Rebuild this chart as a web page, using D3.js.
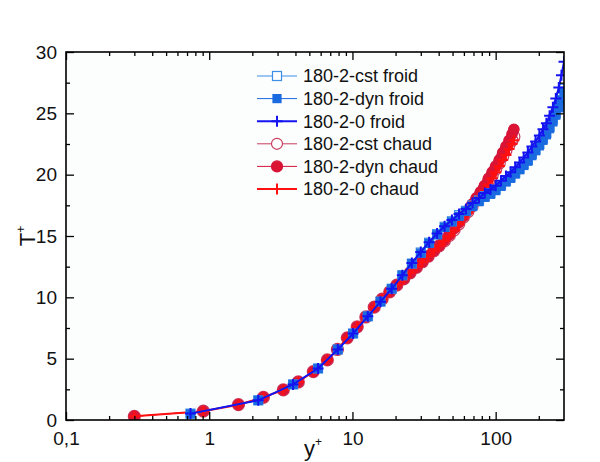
<!DOCTYPE html>
<html>
<head>
<meta charset="utf-8">
<script src="https://cdn.jsdelivr.net/npm/d3@7"></script>
<style>
  body { margin: 0; background: #fff; }
  svg { font-family: "Liberation Sans", Arial, sans-serif; }
</style>
</head>
<body>
<svg id="chart" width="600" height="462"></svg>
<script>
// y+ grids (cold wall / hot wall)
const yPlusFroid = [0.74, 2.2, 3.85, 5.75, 7.9, 10.1, 12.8, 15.7, 18.8, 22.3, 26, 30, 34.3, 39, 44, 49.5, 55.5, 62, 69, 76.5, 84, 92, 100, 109, 118, 127, 137, 147, 157, 168, 179, 190, 202, 214, 226, 238, 251, 263, 276, 288, 300];
const yPlusChaud = [0.3, 0.91, 1.6, 2.39, 3.29, 4.19, 5.33, 6.68, 7.85, 9.2, 10.8, 12.4, 14.2, 16.1, 18.2, 20.4, 22.8, 25.3, 28, 30.8, 33.8, 37, 40.3, 43.8, 47.5, 51.3, 55.3, 59.5, 64, 68.5, 73.3, 78.3, 83.5, 89, 94.5, 100, 106, 112, 118, 124, 130, 134];

// T+ values
const tCstFroid = [0.52, 1.6, 2.9, 4.2, 5.75, 7.05, 8.45, 9.65, 10.7, 11.8, 12.75, 13.65, 14.45, 15.15, 15.75, 16.2, 16.7, 17.05, 17.5, 17.9, 18.25, 18.5, 18.8, 19.15, 19.5, 19.8, 20.15, 20.5, 20.85, 21.2, 21.7, 22.05, 22.5, 22.95, 23.4, 23.9, 24.5, 25.0, 25.6, 26.3, 27.0];
const tDynFroid = [0.5, 1.6, 2.9, 4.2, 5.75, 7.05, 8.45, 9.65, 10.7, 11.8, 12.75, 13.6, 14.4, 15.1, 15.7, 16.15, 16.6, 17.0, 17.4, 17.8, 18.15, 18.4, 18.7, 19.05, 19.4, 19.7, 20.05, 20.4, 20.75, 21.1, 21.55, 21.95, 22.35, 22.8, 23.25, 23.75, 24.3, 24.85, 25.45, 26.1, 26.8];
const t0Froid = [0.52, 1.6, 2.9, 4.2, 5.75, 7.05, 8.45, 9.65, 10.7, 11.8, 12.8, 13.7, 14.5, 15.2, 15.8, 16.3, 16.8, 17.2, 17.7, 18.1, 18.5, 18.8, 19.1, 19.5, 19.9, 20.2, 20.6, 21.0, 21.4, 21.8, 22.3, 22.7, 23.2, 23.7, 24.2, 24.8, 25.5, 26.2, 27.1, 28.1, 29.2];
const tCstChaud = [0.3, 0.72, 1.25, 1.85, 2.45, 3.1, 3.95, 4.9, 5.75, 6.7, 7.6, 8.4, 9.2, 9.85, 10.45, 11.0, 11.5, 12.0, 12.45, 12.9, 13.35, 13.8, 14.2, 14.6, 15.05, 15.5, 16.0, 16.55, 17.0, 17.45, 17.95, 18.4, 18.9, 19.45, 19.95, 20.45, 20.95, 21.5, 22.0, 22.45, 22.8, 23.1];
const tDynChaud = [0.3, 0.72, 1.25, 1.85, 2.45, 3.1, 3.95, 4.9, 5.75, 6.7, 7.6, 8.4, 9.2, 9.85, 10.45, 11.0, 11.5, 12.0, 12.45, 12.9, 13.35, 13.8, 14.2, 14.65, 15.1, 15.6, 16.1, 16.6, 17.1, 17.6, 18.1, 18.6, 19.1, 19.7, 20.2, 20.7, 21.2, 21.8, 22.3, 22.8, 23.3, 23.7];
const t0Chaud = [0.3, 0.72, 1.25, 1.85, 2.45, 3.1, 3.95, 4.9, 5.75, 6.7, 7.6, 8.4, 9.2, 9.85, 10.45, 11.0, 11.5, 12.0, 12.5, 12.9, 13.35, 13.8, 14.2, 14.6, 15.0, 15.45, 15.95, 16.5, 16.9, 17.3, 17.8, 18.2, 18.7, 19.2, 19.7, 20.2, 20.7, 21.2, 21.6, 22.1, 22.5, 22.8];

const seriesNames = ['180-2-cst froid', '180-2-dyn froid', '180-2-0 froid', '180-2-cst chaud', '180-2-dyn chaud', '180-2-0 chaud'];

const xMajor = [0.1, 1, 10, 100];
const xMajorLabels = ['0,1', '1', '10', '100'];
const xMinor = [0.2, 0.3, 0.4, 0.5, 0.6, 0.7, 0.8, 0.9, 2, 3, 4, 5, 6, 7, 8, 9, 20, 30, 40, 50, 60, 70, 80, 90, 200];
const yMajor = [0, 5, 10, 15, 20, 25, 30];
const yMinor = [2.5, 7.5, 12.5, 17.5, 22.5, 27.5];

let svg = d3.select('#chart');
const W = 600, H = 462;
const pLeft = 66, pRight = 564, pTop = 52, pBottom = 420;

let x = d3.scaleLog().domain([0.1, 300]).range([pLeft, pRight]);
let y = d3.scaleLinear().domain([0, 30]).range([pBottom, pTop]);

///// series styles /////
let series = [
    {name: seriesNames[0], xs: yPlusFroid, ts: tCstFroid, color: '#3d8fe6', lw: 1, mark: 'square', fill: 'none', size: 9},
    {name: seriesNames[1], xs: yPlusFroid, ts: tDynFroid, color: '#1a6ae0', lw: 1, mark: 'square', fill: '#1a6ae0', size: 8},
    {name: seriesNames[2], xs: yPlusFroid, ts: t0Froid, color: '#1414f0', lw: 2, mark: 'plus', fill: 'none', size: 11},
    {name: seriesNames[3], xs: yPlusChaud, ts: tCstChaud, color: '#c83c5e', lw: 1, mark: 'circle', fill: 'none', size: 12},
    {name: seriesNames[4], xs: yPlusChaud, ts: tDynChaud, color: '#d4143a', lw: 1, mark: 'circle', fill: '#dc1434', size: 10.5},
    {name: seriesNames[5], xs: yPlusChaud, ts: t0Chaud, color: '#ff1010', lw: 2, mark: 'plus', fill: 'none', size: 11}
];

function drawMarker(g, s, bg){
    let fill = s.fill === 'none' ? bg : s.fill;
    if(s.mark === 'square'){
        g.append('rect').attr('x', -s.size/2).attr('y', -s.size/2)
            .attr('width', s.size).attr('height', s.size)
            .attr('fill', fill).attr('stroke', s.color).attr('stroke-width', 1.2);
    }else if(s.mark === 'circle'){
        g.append('circle').attr('r', s.size/2)
            .attr('fill', fill).attr('stroke', s.color).attr('stroke-width', 1.2);
    }else{
        let h = s.size/2;
        g.append('path').attr('d', `M${-h},0H${h}M0,${-h}V${h}`)
            .attr('stroke', s.color).attr('stroke-width', 2).attr('fill', 'none');
    }
}

svg.append('rect').attr('width', W).attr('height', H).attr('fill', '#fff');
svg.append('rect').attr('x', pLeft).attr('y', pTop).attr('width', pRight - pLeft).attr('height', pBottom - pTop).attr('fill', '#fcfdfd');

///// data /////
svg.append('clipPath').attr('id', 'plotclip').append('rect')
    .attr('x', pLeft).attr('y', pTop).attr('width', pRight - pLeft).attr('height', pBottom - pTop);

let plot = svg.append('g').attr('clip-path', 'url(#plotclip)');
let lineGen = d3.line().x(d => x(d[0])).y(d => y(d[1]));

// hot side first, cold side on top
let drawOrder = [3, 4, 5, 0, 1, 2];
drawOrder.forEach(i => {
    let s = series[i];
    let pts = s.xs.map((v, j) => [v, s.ts[j]]);
    let g = plot.append('g');
    g.append('path').attr('d', lineGen(pts)).attr('fill', 'none')
        .attr('stroke', s.color).attr('stroke-width', s.lw);
    g.selectAll('g.mk').data(pts).enter().append('g').classed('mk', true)
        .attr('transform', d => `translate(${x(d[0])},${y(d[1])})`)
        .each(function(){ drawMarker(d3.select(this), s, 'rgba(255,255,255,0)'); });
});

///// axes /////
svg.append('g').attr('transform', `translate(0,${pBottom})`)
    .call(d3.axisBottom(x).tickValues(xMajor).tickSize(-8).tickPadding(12)
        .tickFormat((d, i) => xMajorLabels[i]));
svg.append('g').attr('transform', `translate(0,${pBottom})`)
    .call(d3.axisBottom(x).tickValues(xMinor).tickSize(-4).tickFormat(''));
svg.append('g').attr('transform', `translate(0,${pTop})`)
    .call(d3.axisTop(x).tickValues(xMajor).tickSize(-8).tickFormat(''));
svg.append('g').attr('transform', `translate(0,${pTop})`)
    .call(d3.axisTop(x).tickValues(xMinor).tickSize(-4).tickFormat(''));

svg.append('g').attr('transform', `translate(${pLeft},0)`)
    .call(d3.axisLeft(y).tickValues(yMajor).tickSize(-8).tickPadding(9).tickFormat(d3.format('d')));
svg.append('g').attr('transform', `translate(${pLeft},0)`)
    .call(d3.axisLeft(y).tickValues(yMinor).tickSize(-4).tickFormat(''));
svg.append('g').attr('transform', `translate(${pRight},0)`)
    .call(d3.axisRight(y).tickValues(yMajor).tickSize(-8).tickFormat(''));
svg.append('g').attr('transform', `translate(${pRight},0)`)
    .call(d3.axisRight(y).tickValues(yMinor).tickSize(-4).tickFormat(''));

svg.selectAll('.domain').remove();
svg.selectAll('.tick line').attr('stroke', '#000').attr('stroke-width', 1.3);
svg.selectAll('.tick text').attr('fill', '#111').style('font-size', '19px')
    .style('font-family', '"Liberation Sans", Arial, sans-serif');

svg.append('rect').attr('x', pLeft).attr('y', pTop).attr('width', pRight - pLeft).attr('height', pBottom - pTop)
    .attr('fill', 'none').attr('stroke', '#000').attr('stroke-width', 1.6);

///// axis titles /////
let yTitle = svg.append('text').attr('transform', 'translate(35,236) rotate(-90)')
    .attr('text-anchor', 'middle').style('font-size', '22px').attr('fill', '#111');
yTitle.append('tspan').text('T');
yTitle.append('tspan').text('+').attr('dy', -10).style('font-size', '12px');

let xTitle = svg.append('text').attr('x', 313).attr('y', 456)
    .attr('text-anchor', 'middle').style('font-size', '22px').attr('fill', '#111');
xTitle.append('tspan').text('y');
xTitle.append('tspan').text('+').attr('dy', -10).style('font-size', '12px');

///// legend /////
let legend = svg.append('g').attr('transform', 'translate(257,76)');
let rows = legend.selectAll('g').data(series).enter().append('g')
    .attr('transform', (d, i) => `translate(0,${i * 22.6})`);
rows.append('line').attr('x1', 0).attr('x2', 40).attr('y1', 0).attr('y2', 0)
    .attr('stroke', d => d.color).attr('stroke-width', d => d.lw);
rows.each(function(d){
    let m = d3.select(this).append('g').attr('transform', 'translate(20,0)');
    drawMarker(m, Object.assign({}, d, {size: d.mark === 'circle' ? 11 : d.size}), '#fff');
});
rows.append('text').attr('x', 46).attr('y', 0).attr('dy', '0.36em')
    .style('font-size', '18px').attr('fill', '#111').text(d => d.name);
</script>
</body>
</html>
